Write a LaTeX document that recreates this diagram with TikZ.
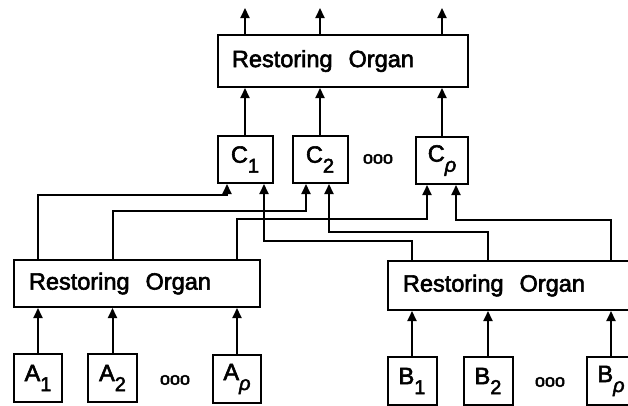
\documentclass[tikz,border=0pt]{standalone}
\usepackage{fontspec}
\setmainfont{Liberation Sans}
\newfontfamily\organfamily{Liberation Sans}[FakeBold=2.5]
\usetikzlibrary{arrows.meta}
\newcommand\organfont{\organfamily\fontsize{23.5pt}{28pt}\selectfont}
\newcommand\lowsub[1]{\raisebox{-10pt}{\fontsize{20pt}{20pt}\selectfont #1}}
\tikzset{
  organ box/.style={draw,line width=2pt,inner xsep=15pt,inner ysep=0pt,align=left,font=\organfont},
  cell box/.style={draw,line width=2pt,inner sep=0pt,minimum width=52pt,minimum height=47pt,font=\organfont},
  feed/.style={-{Triangle[width=9pt,length=10pt]},line width=2pt},
  ellipsis/.style={font=\organfamily\fontsize{18pt}{18pt}\selectfont,inner sep=0pt}
}

\begin{document}
\begin{tikzpicture}[x=1pt,y=-1pt]
  \clip (0,0) rectangle (628,405);
  \node[organ box,text width=222pt,inner xsep=14pt,minimum height=52pt] (top) at (343,61) {Restoring\hspace{.35em} Organ};

  \node[cell box,minimum width=55pt] (C1) at (245,159.5) {C\lowsub{1}};
  \node[cell box,minimum width=55pt] (C2) at (320,159.5) {C\lowsub{2}};
  \node[ellipsis] (Cdots) at (378,159) {ooo};
  \node[cell box] (Cp) at (442,160.5) {C\lowsub{\textit{ρ}}};

  \node[organ box,text width=216pt,minimum height=47pt] (lRO) at (137,283.5) {Restoring\hspace{.35em} Organ};
  \node[organ box,text width=218pt,minimum height=49pt] (rRO) at (512,285.5) {Restoring\hspace{.35em} Organ};

  \node[cell box,minimum width=48pt,minimum height=48pt] (A1) at (38,378) {A\lowsub{1}};
  \node[cell box,minimum width=49pt,minimum height=48pt] (A2) at (112.5,378) {A\lowsub{2}};
  \node[ellipsis] (Adots) at (175,380) {ooo};
  \node[cell box,minimum width=48pt,minimum height=48pt] (Ap) at (237,379) {A\lowsub{\textit{ρ}}};

  \node[cell box,minimum width=49pt,minimum height=48pt] (B1) at (412,381) {B\lowsub{1}};
  \node[cell box,minimum width=49pt,minimum height=48pt] (B2) at (488,381) {B\lowsub{2}};
  \node[ellipsis] (Bdots) at (550,382) {ooo};
  \node[cell box,minimum width=49pt,minimum height=48pt] (Bp) at (611,381) {B\lowsub{\textit{ρ}}};

  % ports under the C cells
  \coordinate (C1l) at ([xshift=-18pt]C1.south);
  \coordinate (C1r) at ([xshift=19pt]C1.south);
  \coordinate (C2l) at ([xshift=-14pt]C2.south);
  \coordinate (C2r) at ([xshift=9pt]C2.south);
  \coordinate (Cpl) at ([xshift=-15pt]Cp.south);
  \coordinate (Cpr) at ([xshift=14pt]Cp.south);

  % inputs and outputs of the top organ
  \draw[feed] (C1.north) -- (C1.north |- top.south);
  \draw[feed] (C2.north) -- (C2.north |- top.south);
  \draw[feed] (Cp.north) -- (Cp.north |- top.south);
  \draw[feed] (C1.north |- top.north) -- ++(0,-26);
  \draw[feed] (C2.north |- top.north) -- ++(0,-26);
  \draw[feed] (Cp.north |- top.north) -- ++(0,-26);

  % inputs of the lower organs
  \draw[feed] (A1.north) -- (A1.north |- lRO.south);
  \draw[feed] (A2.north) -- (A2.north |- lRO.south);
  \draw[feed] (Ap.north) -- (Ap.north |- lRO.south);
  \draw[feed] (B1.north) -- (B1.north |- rRO.south);
  \draw[feed] (B2.north) -- (B2.north |- rRO.south);
  \draw[feed] (Bp.north) -- (Bp.north |- rRO.south);

  % crossing feeds to the C cells
  \draw[feed] (A1 |- lRO.north) -- ++(0,-64) -| (C1l);
  \draw[feed] (A2 |- lRO.north) -- ++(0,-48) -| (C2l);
  \draw[feed] (Ap |- lRO.north) -- ++(0,-40) -| (Cpl);
  \draw[feed] (B1 |- rRO.north) -- ++(0,-19) -| (C1r);
  \draw[feed] (B2 |- rRO.north) -- ++(0,-28) -| (C2r);
  \draw[feed] (Bp |- rRO.north) -- ++(0,-40) -| (Cpr);
\end{tikzpicture}
\end{document}
